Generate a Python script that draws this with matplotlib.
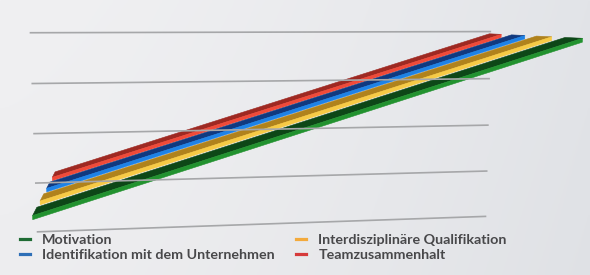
import numpy as np
import matplotlib
matplotlib.use("Agg")
import matplotlib.pyplot as plt
from matplotlib.lines import Line2D
from mpl_toolkits.mplot3d.art3d import Poly3DCollection

# ---------------- data ----------------
categories = ["Beginn", "Ende"]
series_names = ["Motivation", "Interdisziplinäre Qualifikation",
                "Identifikation mit dem Unternehmen", "Teamzusammenhalt"]
motivation = [32, 99]
qualifikation = [32, 99]
identifikation = [32, 99]
teamzusammenhalt = [32, 99]
grid_values = [0, 25, 50, 75, 100]

# ---------------- style ----------------
top_colors = ["#0d4717", "#b0821c", "#10397f", "#9e2922"]
front_colors = ["#22922f", "#f7ca45", "#1e82e6", "#f04a39"]
legend_colors = ["#1f6b34", "#f3aa3c", "#2e6fb7", "#d63b3b"]
text_color = "#48484a"
grid_color = "#a6a7a9"

ELEV, AZIM, FOCAL = 7.53, -99.29, 0.3232
BOX = (1, 0.4084, 0.4498)
S, CX, CY = 3002.6, 295.3, 145.0
WALL_DEPTH, GRID_X0, GRID_X1 = 3.606, -0.047, 1.019
RIB_DEPTH, RIB_HEIGHT = 0.55, 1.6
W, H = 590, 275

fig = plt.figure(figsize=(W / 100, H / 100), dpi=100)

# background gradient
bg = fig.add_axes([0, 0, 1, 1])
xx = np.linspace(0, 1, 200)[None, :, None]
yy = np.linspace(0, 1, 100)[:, None, None]
c_left = np.array([0xf0, 0xf0, 0xf2]) / 255
c_right = np.array([0xe2, 0xe4, 0xe8]) / 255
img = c_left * (1 - xx ** 1.5) + c_right * xx ** 1.5 - 0.01 * yy
bg.imshow(np.clip(img, 0, 1), extent=[0, 1, 0, 1], aspect="auto", origin="upper")
bg.set_axis_off()

ax = fig.add_axes([0, 0, 1, 1], projection="3d", computed_zorder=False)
ax.set_facecolor("none")
ax.set_axis_off()
ax.set_xlim(0, 1)
ax.set_ylim(0, 3)
ax.set_zlim(grid_values[0], grid_values[-1])
ax.view_init(elev=ELEV, azim=AZIM, roll=0)
ax.set_proj_type("persp", focal_length=FOCAL)
ax.set_box_aspect(BOX)
vx0, vx1 = ax.viewLim.intervalx
vy0, vy1 = ax.viewLim.intervaly
ax.set_position([(CX + S * vx0) / W, (H - (CY - S * vy0)) / H,
                 S * (vx1 - vx0) / W, S * (vy1 - vy0) / H])

# gridlines on the back wall
for gv in grid_values:
    ax.plot([GRID_X0, GRID_X1], [WALL_DEPTH, WALL_DEPTH], [gv, gv],
            color=grid_color, lw=1.2, clip_on=False)

# ribbons, back to front
xpos = np.arange(len(categories), dtype=float)
all_series = [motivation, qualifikation, identifikation, teamzusammenhalt]
for k in reversed(range(len(all_series))):
    vals = np.asarray(all_series[k], float)
    y0, y1 = k - RIB_DEPTH / 2, k + RIB_DEPTH / 2
    top = [list(zip(xpos, [y0] * 2, vals)) + list(zip(xpos[::-1], [y1] * 2, vals[::-1]))]
    front = [list(zip(xpos, [y0] * 2, vals)) + list(zip(xpos[::-1], [y0] * 2, vals[::-1] - RIB_HEIGHT))]
    coll = Poly3DCollection(top + front, facecolors=[top_colors[k], front_colors[k]],
                            edgecolors=[top_colors[k], front_colors[k]], linewidths=0.4)
    coll.set_clip_on(False)
    ax.add_collection3d(coll)

# legend
order = [0, 2, 1, 3]
handles = [Line2D([], [], color=legend_colors[i], lw=2.3) for i in order]
labels = [series_names[i] for i in order]
fig.legend(handles, labels, ncol=2, loc="upper left", bbox_to_anchor=(0.034, 0.150),
           frameon=False, prop=dict(family="Lato", weight="bold", size=10.3),
           labelcolor=text_color, handlelength=0.7, handletextpad=0.85,
           columnspacing=1.5, labelspacing=0.24, borderpad=0, borderaxespad=0)

fig.savefig("out.png", dpi=100)
